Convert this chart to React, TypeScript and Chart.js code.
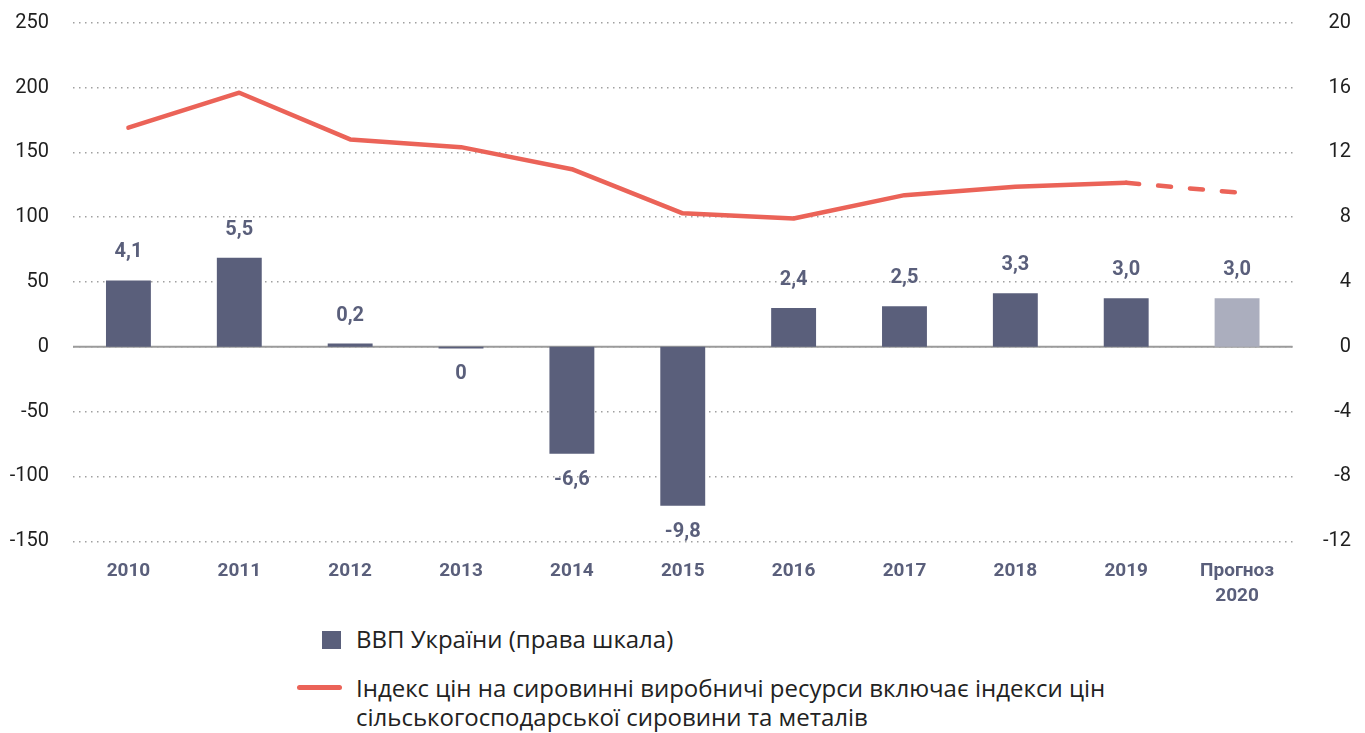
import React, { useEffect, useRef } from "react";
import { Chart, registerables } from "chart.js";

Chart.register(...registerables);

const categories: (string | string[])[] = [
  "2010", "2011", "2012", "2013", "2014", "2015", "2016", "2017", "2018", "2019", ["Прогноз", "2020"],
];
const gdpValues = [4.1, 5.5, 0.2, -0.1, -6.6, -9.8, 2.4, 2.5, 3.3, 3.0, 3.0];
const gdpLabels = ["4,1", "5,5", "0,2", "0", "-6,6", "-9,8", "2,4", "2,5", "3,3", "3,0", "3,0"];
const priceIndex = [169, 196, 160, 154, 137, 103, 99, 117, 123.5, 126.5, 119];
const leftTicks = { min: -150, max: 250, step: 50 };
const rightTicks = { min: -12, max: 20, step: 4 };
const legendBar = "ВВП України (права шкала)";
const legendLine1 = "Індекс цін на сировинні виробничі ресурси включає індекси цін";
const legendLine2 = "сільськогосподарської сировини та металів";

const BAR = "#5A5F7B";
const BAR_FORECAST = "#ABAEBE";
const RED = "#EB6358";
const LABEL = "#5A5F7B";

const valueLabelsPlugin = {
  id: "valueLabels",
  afterDatasetsDraw(chart: any) {
    const meta = chart.getDatasetMeta(0);
    const ctx = chart.ctx;
    ctx.save();
    ctx.font = "bold 20px Roboto";
    ctx.fillStyle = LABEL;
    ctx.textAlign = "center";
    ctx.textBaseline = "middle";
    meta.data.forEach((el: any, i: number) => {
      const v = gdpValues[i];
      const y = v >= 0 ? el.y - 28 : el.y + 26;
      ctx.fillText(gdpLabels[i], el.x, y);
    });
    ctx.restore();
  },
};

const zeroLinePlugin = {
  id: "zeroLine",
  beforeDatasetsDraw(chart: any) {
    const y = chart.scales.y.getPixelForValue(0);
    const { left, right } = chart.chartArea;
    const ctx = chart.ctx;
    ctx.save();
    ctx.strokeStyle = "#9b9b9b";
    ctx.lineWidth = 2;
    ctx.beginPath();
    ctx.moveTo(left, y);
    ctx.lineTo(right, y);
    ctx.stroke();
    ctx.restore();
  },
};

export default function App() {
  const ref = useRef<HTMLCanvasElement | null>(null);

  useEffect(() => {
    document.body.style.margin = "0";
    if (!ref.current) return;
    const chart = new Chart(ref.current, {
      type: "bar",
      data: {
        labels: categories as any,
        datasets: [
          {
            type: "bar",
            data: gdpValues,
            yAxisID: "y1",
            backgroundColor: gdpValues.map((_, i) => (i === gdpValues.length - 1 ? BAR_FORECAST : BAR)),
            categoryPercentage: 0.45,
            barPercentage: 0.9,
            order: 2,
          },
          {
            type: "line",
            data: priceIndex,
            yAxisID: "y",
            borderColor: RED,
            borderWidth: 4.5,
            pointRadius: 0,
            borderCapStyle: "round",
            borderJoinStyle: "round",
            tension: 0,
            order: 1,
            segment: {
              borderDash: (c: any) => (c.p1DataIndex === priceIndex.length - 1 ? [13, 19] : undefined),
            },
          } as any,
        ],
      },
      options: {
        animation: false,
        responsive: false,
        layout: { padding: { top: 22.7, bottom: 0, left: 0, right: 14 } },
        plugins: {
          legend: { display: false },
          tooltip: { enabled: false },
        },
        scales: {
          x: {
            grid: { display: false, drawTicks: false },
            border: { display: false },
            ticks: {
              color: LABEL,
              font: { family: "Roboto", size: 19, weight: "bold", lineHeight: 1.3 },
              padding: 18,
              maxRotation: 0,
              autoSkip: false,
            },
            afterFit: (s: any) => {
              s.height = 610 - 541.3;
              s.paddingLeft = 0;
              s.paddingRight = 0;
            },
          },
          y: {
            position: "left",
            min: leftTicks.min,
            max: leftTicks.max,
            ticks: {
              stepSize: leftTicks.step,
              color: "#1f1f1f",
              font: { family: "Roboto", size: 20 },
              padding: 24,
            },
            grid: { color: "#a0a0a0", lineWidth: 1.5, drawTicks: false },
            border: { display: false, dash: [1.5, 4.5] },
            afterFit: (s: any) => {
              s.width = 73;
              s.paddingTop = 0;
              s.paddingBottom = 0;
            },
          },
          y1: {
            position: "right",
            min: rightTicks.min,
            max: rightTicks.max,
            ticks: {
              stepSize: rightTicks.step,
              color: "#1f1f1f",
              font: { family: "Roboto", size: 20 },
              padding: 17,
              crossAlign: "far",
            },
            grid: { display: false, drawTicks: false },
            border: { display: false },
            afterFit: (s: any) => {
              s.width = 58.5;
              s.paddingTop = 0;
              s.paddingBottom = 0;
            },
          },
        },
      } as any,
      plugins: [zeroLinePlugin, valueLabelsPlugin],
    });
    return () => chart.destroy();
  }, []);

  const legendText: React.CSSProperties = {
    position: "absolute",
    left: 356,
    fontFamily: "'Open Sans', sans-serif",
    fontSize: 24,
    color: "#222",
    whiteSpace: "nowrap",
  };

  return (
    <div style={{ position: "relative", width: 1365, height: 733, background: "#fff", overflow: "hidden" }}>
      <canvas ref={ref} width={1365} height={610} style={{ display: "block", width: 1365, height: 610 }} />
      <div style={{ position: "absolute", left: 322, top: 631, width: 19, height: 18, background: BAR }} />
      <div style={{ ...legendText, top: 623, lineHeight: "32px" }}>{legendBar}</div>
      <div style={{ position: "absolute", left: 297, top: 685, width: 45, height: 5, borderRadius: 3, background: RED }} />
      <div style={{ ...legendText, top: 673, lineHeight: "29px" }}>
        {legendLine1}
        <br />
        {legendLine2}
      </div>
    </div>
  );
}
